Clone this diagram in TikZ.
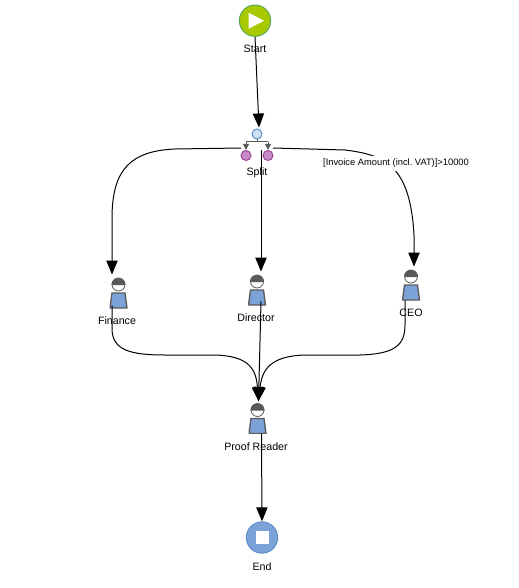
\documentclass[tikz,border=0pt]{standalone}
\usepackage{fontspec}
\setmainfont{Liberation Sans}
\usepackage{xcolor}
\usetikzlibrary{arrows.meta,calc}
\definecolor{cG}{HTML}{A8C800}
\definecolor{cH}{HTML}{5BAA55}
\definecolor{cB}{HTML}{7BA3D8}
\definecolor{cI}{HTML}{5F8CCB}
\definecolor{cL}{HTML}{CFE0F5}
\definecolor{cP}{HTML}{C98AC9}
\definecolor{cQ}{HTML}{9A479A}
\definecolor{cS}{HTML}{5A5A5A}
\tikzset{
  caption/.style={inner sep=0pt,font=\fontsize{8pt}{9pt}\selectfont},
  flow/.style={-{Triangle[length=10.5pt,width=8.5pt]},line width=.75pt,black},
  subflow/.style={-{Triangle[length=4.5pt,width=4.5pt]},line width=.75pt,cS},
  gatedot/.style={circle,draw=cQ,fill=cP,line width=.75pt,inner sep=0pt,minimum size=7.5pt},
  startnode/.style={circle,draw=cH,fill=cG,line width=.75pt,inner sep=0pt,minimum size=23.5pt,
    path picture={\fill[white,shift={(path picture bounding box.center)}]
      (-6.5,-8) -- (9,0) -- (-6.5,8) -- cycle;}},
  endnode/.style={circle,draw=cI,fill=cB,line width=.75pt,inner sep=0pt,minimum size=23.5pt,
    path picture={\fill[white,shift={(path picture bounding box.center)}]
      (-6.5,-6.5) rectangle (6.5,6.5);}},
  person/.style={inner sep=0pt,minimum width=13.5pt,minimum height=23.5pt,
    path picture={
      \begin{scope}[shift={(path picture bounding box.center)}]
        \draw[cS,fill=white,line width=.6pt] (0,-8) circle (6.5);
        \fill[cS] (-7,-7.5) arc (180:360:7) -- cycle;
        \draw[cS,fill=cB,line width=1pt] (-6.5,.5) -- (6.5,.5) -- (8.5,15.5) -- (-8.5,15.5) -- cycle;
      \end{scope}}},
}
\begin{document}
\begin{tikzpicture}[x=.75pt,y=-.75pt]
  \useasboundingbox (0,0) rectangle (518,588);

  \node[startnode] (start) at (255,20.7){};
  \node[caption] (startText) at (255,48.5){Start};

  \node[circle,draw=cI,fill=cL,line width=.75pt,inner sep=0pt,minimum size=7.5pt] (splitIn) at (257,134){};
  \node[gatedot] (splitL) at (246,155.5){};
  \node[gatedot] (splitR) at (268,155.5){};
  \coordinate (splitBar) at (257,142);
  \coordinate (splitW) at (241,148);
  \coordinate (splitE) at (273,148);
  \node[caption] (splitText) at (257,172.5){Split};

  \node[person] (finance) at (118.5,292.5){};
  \node[caption] (financeText) at (117,320.5){Finance};
  \node[person] (director) at (257,289.5){};
  \node[caption] (directorText) at (256,317.5){Director};
  \node[person] (ceo) at (411,284.5){};
  \node[caption] (ceoText) at (411,312.5){CEO};
  \node[person] (proof) at (257.5,418){};
  \node[caption] (proofText) at (256,446.5){Proof Reader};

  \node[endnode] (end) at (262,537.5){};
  \node[caption] (endText) at (262,566.5){End};

  \draw[flow] (start.south) -- ($(splitIn.north)+(2,-1)$);
  \draw[subflow,-] (splitIn.south) -- (splitBar);
  \draw[subflow,-] (splitBar -| splitL) -- (splitBar -| splitR);
  \draw[subflow] (splitBar -| splitL) -- (splitL);
  \draw[subflow] (splitBar -| splitR) -- (splitR);

  \draw[flow] (splitW) -- (175,149) .. controls (130,151) and (113,170) .. (112,215) -- ($(finance.north)+(-6.5,-2)$);
  \draw[flow] (splitIn |- splitE) ++(4,2) -- ($(director.north)+(4,-2)$);
  \draw[flow] (splitE) -- (345,150) .. controls (385,155) and (410,165) .. (414,235) -- ($(ceo.north)+(3,-2)$);

  \draw[flow] ($(finance.south)+(-6.5,-3)$) -- (112,330) .. controls (113,350) and (130,355) .. (165,355)
    -- (215,355) .. controls (248,356) and (256,368) .. ($(proof.north)+(1,-1)$);
  \draw[flow] ($(director.south)+(4,-4)$) -- ($(proof.north)+(1,-1)$);
  \draw[flow] ($(ceo.south)+(-6,0)$) -- (405,325) .. controls (405,345) and (395,354) .. (360,355)
    -- (305,355) .. controls (270,356) and (262,370) .. ($(proof.north)+(1,-1)$);
  \draw[flow] ($(proof.south)+(4,0)$) -- (end.north);

  \node[caption,fill=white,inner ysep=2.5pt,inner xsep=1pt,font=\fontsize{7pt}{8pt}\selectfont] (amountText) at (396,163.5){[Invoice Amount (incl.\ VAT)]>10000};
\end{tikzpicture}
\end{document}
